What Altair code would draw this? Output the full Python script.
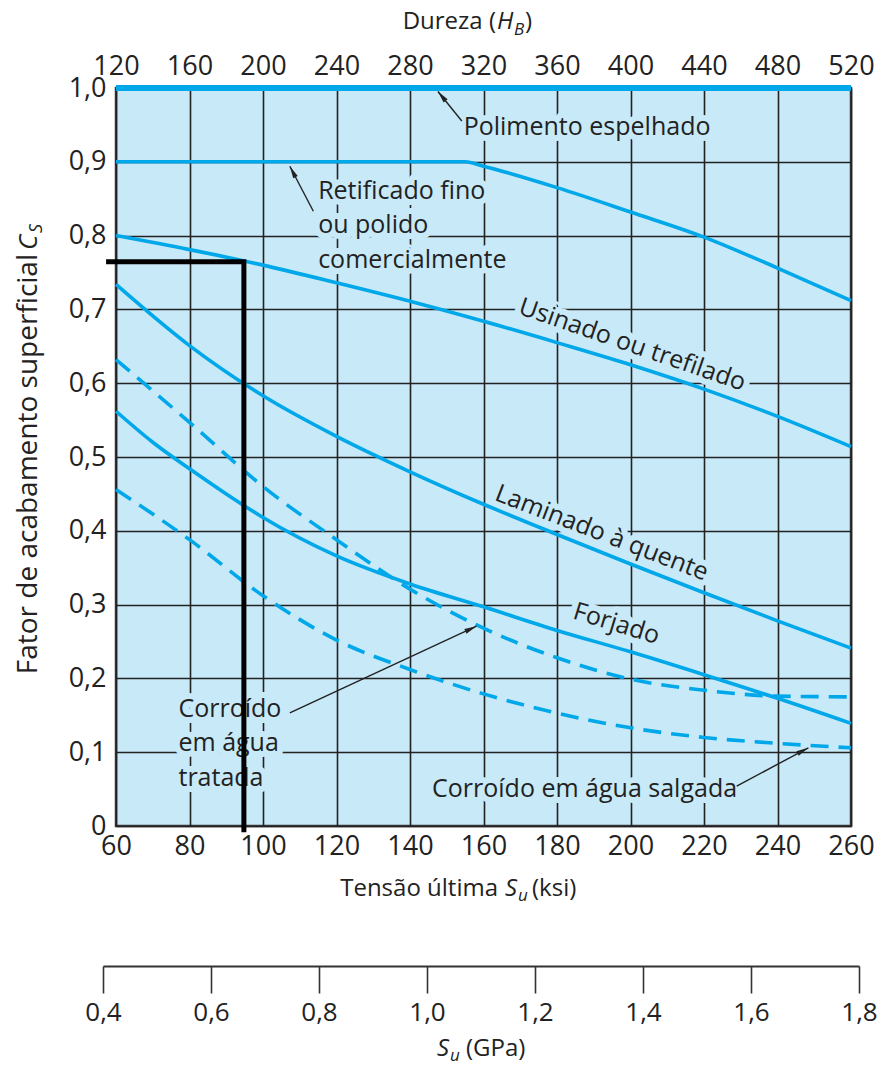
import math
import altair as alt
import pandas as pd

W, H = 735, 738
FONT = "Open Sans"
BLUE = "#00A8EA"
FILL = "#C8E9F8"
INK = "#222222"

# ---------------- data ----------------
ksi_ticks = list(range(60, 261, 20))
hb_ticks = list(range(120, 521, 40))
gpa_ticks = [0.4, 0.6, 0.8, 1.0, 1.2, 1.4, 1.6, 1.8]
cs_ticks = [0.0, 0.1, 0.2, 0.3, 0.4, 0.5, 0.6, 0.7, 0.8, 0.9, 1.0]

ksi_std = [60, 80, 100, 120, 140, 160, 180, 200, 220, 240, 260]

pol_ksi = [60, 260]
pol_cs = [1.0, 1.0]

ret_ksi = [60, 155, 160, 180, 200, 220, 240, 260]
ret_cs = [0.900, 0.900, 0.894, 0.865, 0.832, 0.798, 0.756, 0.712]

usi_cs = [0.800, 0.781, 0.760, 0.736, 0.711, 0.684, 0.655, 0.625, 0.592, 0.555, 0.514]
lam_cs = [0.734, 0.651, 0.583, 0.528, 0.480, 0.436, 0.395, 0.355, 0.316, 0.278, 0.241]

forj_ksi = [60, 70, 80, 90, 100, 120, 140, 160, 180, 200, 220, 240, 260]
forj_cs = [0.562, 0.520, 0.484, 0.450, 0.418, 0.366, 0.328, 0.297, 0.265, 0.236, 0.205, 0.173, 0.139]

tra_cs = [0.632, 0.547, 0.460, 0.388, 0.321, 0.268, 0.228, 0.199, 0.184, 0.176, 0.175]
sal_cs = [0.456, 0.388, 0.312, 0.252, 0.212, 0.179, 0.153, 0.133, 0.120, 0.112, 0.106]

# reference lines (example reading)
blk_ksi = [57.3, 94.8, 94.8]
blk_cs = [0.7645, 0.7645, -0.0084]

# annotation labels
lab_text = ["Polimento espelhado", "Retificado fino", "ou polido", "comercialmente",
            "Corroído", "em água", "tratada"]
lab_ksi = [154.6, 115.0, 115.0, 115.0, 77.0, 77.0, 77.0]
lab_cs = [0.9465, 0.8603, 0.8137, 0.7676, 0.1588, 0.1118, 0.0653]

sal_text = ["Corroído em água salgada"]
sal_lab_ksi = [229.0]
sal_lab_cs = [0.0495]

rot_text = ["Usinado ou trefilado", "Laminado à quente", "Forjado"]
rot_ksi = [200.5, 192.2, 196.2]
rot_cs = [0.6524, 0.3973, 0.2744]
rot_angle = [19, 21, 17]

arr_tail_ksi = [154.1, 113.7, 107.3, 228.9]
arr_tail_cs = [0.9553, 0.833, 0.1534, 0.054]
arr_tip_ksi = [147.6, 107.3, 158.1, 248.4]
arr_tip_cs = [0.9953, 0.894, 0.2707, 0.106]

hb_range = [120, 520]
gpa_range = [0.4, 1.8]

# ---------------- helpers ----------------
def curve_df(items):
    rows = []
    for name, xs, ys in items:
        for x, y in zip(xs, ys):
            rows.append({"serie": name, "ksi": x, "cs": y})
    return pd.DataFrame(rows)

xscale = alt.Scale(domain=[60, 260], nice=False, zero=False)
yscale = alt.Scale(domain=[0, 1], nice=False, zero=False)
xaxis = alt.Axis(orient="bottom", values=ksi_ticks, grid=True, gridColor=INK, gridWidth=1.6,
                 gridOpacity=1, domain=False, ticks=False, labelFontSize=27, labelFont=FONT,
                 labelColor=INK, labelPadding=7, title=None, labelFlush=False, labelOverlap=False)
yaxis = alt.Axis(values=cs_ticks, grid=True, gridColor=INK, gridWidth=1.6, gridOpacity=1,
                 domain=False, ticks=False, labelFontSize=27, labelFont=FONT, labelColor=INK,
                 labelPadding=10, title=None, labelFlush=False, labelOverlap=False,
                 labelExpr="datum.value == 0 ? '0' : replace(format(datum.value, '.1f'), '.', ',')")

def X(f="ksi"):
    return alt.X(f"{f}:Q", scale=xscale, axis=xaxis)

def Y(f="cs"):
    return alt.Y(f"{f}:Q", scale=yscale, axis=yaxis)

one = pd.DataFrame({"k": [0]})

def txt(s, x, y, size=24, align="left", italic=False, angle=0):
    kw = dict(text=s, align=align, baseline="alphabetic", fontSize=size, font=FONT, color=INK)
    if italic:
        kw["fontStyle"] = "italic"
    if angle:
        kw["angle"] = angle
    return alt.Chart(one).mark_text(**kw).encode(x=alt.value(x), y=alt.value(y))

# ---------------- layers ----------------
solid = curve_df([
    ("ret", ret_ksi, ret_cs),
    ("usi", ksi_std, usi_cs),
    ("lam", ksi_std, lam_cs),
    ("forj", forj_ksi, forj_cs),
])
dashed = curve_df([
    ("tra", ksi_std, tra_cs),
    ("sal", ksi_std, sal_cs),
])
polished = curve_df([("pol", pol_ksi, pol_cs)])
blk = pd.DataFrame({"ksi": blk_ksi, "cs": blk_cs, "o": list(range(len(blk_ksi)))})

labels = pd.DataFrame({"t": lab_text, "ksi": lab_ksi, "cs": lab_cs})
sal_lab = pd.DataFrame({"t": sal_text, "ksi": sal_lab_ksi, "cs": sal_lab_cs})

arrows = pd.DataFrame({"x1": arr_tail_ksi, "y1": arr_tail_cs, "x2": arr_tip_ksi, "y2": arr_tip_cs})
angs = []
for a, b, c, d in zip(arr_tail_ksi, arr_tail_cs, arr_tip_ksi, arr_tip_cs):
    dx = (c - a) * W / 200.0
    dy = -(d - b) * H
    angs.append((math.degrees(math.atan2(dx, -dy)) + 360) % 360)
arrows["ang"] = angs

halo_kw = dict(font=FONT, fontSize=25, stroke=FILL, strokeWidth=12, strokeJoin="round",
               fill=FILL, baseline="middle")
text_kw = dict(font=FONT, fontSize=25, color=INK, baseline="middle")

layers = []
# halos to break the grid around labels
layers.append(alt.Chart(labels).mark_text(align="left", **halo_kw).encode(x=X(), y=Y(), text="t:N"))
layers.append(alt.Chart(sal_lab).mark_text(align="right", **halo_kw).encode(x=X(), y=Y(), text="t:N"))
for t, xk, yc, an in zip(rot_text, rot_ksi, rot_cs, rot_angle):
    d = pd.DataFrame({"t": [t], "ksi": [xk], "cs": [yc]})
    layers.append(alt.Chart(d).mark_text(align="center", angle=an, **halo_kw).encode(x=X(), y=Y(), text="t:N"))

# curves
layers.append(alt.Chart(polished).mark_line(color=BLUE, strokeWidth=6).encode(x=X(), y=Y(), detail="serie:N"))
layers.append(alt.Chart(solid).mark_line(color=BLUE, strokeWidth=3.6, interpolate="monotone").encode(
    x=X(), y=Y(), detail="serie:N"))
layers.append(alt.Chart(dashed).mark_line(color=BLUE, strokeWidth=3.6, strokeDash=[18, 10],
                                          interpolate="monotone").encode(x=X(), y=Y(), detail="serie:N"))

# arrows
layers.append(alt.Chart(arrows).mark_rule(color=INK, strokeWidth=1.4).encode(
    x=X("x1"), y=Y("y1"), x2="x2:Q", y2="y2:Q"))
layers.append(alt.Chart(arrows).mark_point(shape="M0,0L0.42,2L-0.42,2Z", filled=True, color=INK,
                                           opacity=1, size=150).encode(
    x=X("x2"), y=Y("y2"), angle=alt.Angle("ang:Q", scale=None)))

# label texts
layers.append(alt.Chart(labels).mark_text(align="left", **text_kw).encode(x=X(), y=Y(), text="t:N"))
layers.append(alt.Chart(sal_lab).mark_text(align="right", **text_kw).encode(x=X(), y=Y(), text="t:N"))
for t, xk, yc, an in zip(rot_text, rot_ksi, rot_cs, rot_angle):
    d = pd.DataFrame({"t": [t], "ksi": [xk], "cs": [yc]})
    layers.append(alt.Chart(d).mark_text(align="center", angle=an, **text_kw).encode(x=X(), y=Y(), text="t:N"))

# black reading lines
layers.append(alt.Chart(blk).mark_line(color="black", strokeWidth=5, strokeJoin="miter").encode(
    x=X(), y=Y(), order="o:Q"))

# axis titles (rich text)
layers += [
    txt("Dureza (", 380, -59, align="right"),
    txt("H", 381, -59, italic=True),
    txt("B", 398, -53, size=17, italic=True),
    txt(")", 409, -59),
    txt("Tensão última", 382, 808, align="right"),
    txt("S", 389, 808, italic=True),
    txt("u", 402, 813, size=17, italic=True),
    txt("(ksi)", 416, 808),
    txt("S", 321, 968, italic=True),
    txt("u", 334, 973, size=17, italic=True),
    txt("(GPa)", 350, 968),
    txt("Fator de acabamento superficial", -79, 166, size=28, align="right", angle=270),
    txt("C", -79, 162, size=26, italic=True, angle=270),
    txt("S", -74, 145, size=18, italic=True, angle=270),
]

main = alt.layer(*layers)

hb_layer = alt.Chart(pd.DataFrame({"hb": hb_range})).mark_point(opacity=0).encode(
    x=alt.X("hb:Q", scale=alt.Scale(domain=hb_range, nice=False, zero=False),
            axis=alt.Axis(orient="top", values=hb_ticks, grid=False, domain=False, ticks=False,
                          labelFontSize=27, labelFont=FONT, labelColor=INK, labelPadding=8,
                          title=None, labelFlush=False, labelOverlap=False)))

gpa_layer = alt.Chart(pd.DataFrame({"gpa": gpa_range})).mark_point(opacity=0).encode(
    x=alt.X("gpa:Q", scale=alt.Scale(domain=gpa_range, range=[-13, 743], nice=False, zero=False),
            axis=alt.Axis(orient="bottom", offset=140, values=gpa_ticks, grid=False,
                          domain=True, domainColor="#333333", domainWidth=2,
                          ticks=True, tickSize=27, tickColor="#333333", tickWidth=1.6,
                          labelFontSize=26, labelFont=FONT, labelColor=INK, labelPadding=6,
                          title=None, labelFlush=False, labelOverlap=False,
                          labelExpr="replace(format(datum.value, '.1f'), '.', ',')")))

chart = alt.layer(main, hb_layer, gpa_layer).resolve_scale(x="independent").properties(
    width=W, height=H,
    autosize=alt.AutoSizeParams(type="none"),
    padding={"left": 108, "top": 80, "right": 26, "bottom": 239},
    background="white",
).configure(font=FONT).configure_view(fill=FILL, stroke="#3a3a3a", strokeWidth=2.5)

chart.save("out.html", embed_options={"renderer": "svg", "actions": False})
